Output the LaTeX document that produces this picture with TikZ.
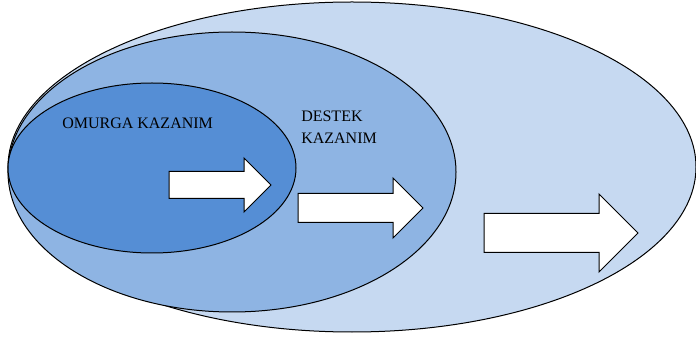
\documentclass[tikz,border=0pt]{standalone}
\usepackage{fontspec}
\setmainfont{Liberation Serif}
\usetikzlibrary{shapes.geometric,shapes.arrows}
\definecolor{coreblue}{HTML}{558ED5}
\definecolor{midblue}{HTML}{8EB4E3}
\definecolor{paleblue}{HTML}{C6D9F1}
\tikzset{ring style/.style={
		draw=black,
		line width=0.75pt,
		fill=#1,
		ellipse,
		inner sep=0pt,
	},
	label style/.style={
		text=black,
		inner sep=0pt,
		font=\fontsize{12}{16.5}\selectfont,
	},
	block arrow/.style n args={4}{
		draw=black,
		line width=0.75pt,
		fill=white,
		single arrow,
		single arrow tip angle=90,
		inner xsep=0pt,
		inner ysep=#2,
		single arrow head extend=#3,
		minimum width=#4,
		minimum height=#1,
		anchor=west,
		outer sep=0pt,
	}
}
\begin{document}
\begin{tikzpicture}[x=0.75pt,y=-0.75pt]
	\useasboundingbox (0,0) rectangle (696,338);
	% nested rings, largest first
	\node[ring style=paleblue, minimum width=516pt, minimum height=247.5pt] (Cevre) at (352,167) {};
	\node[ring style=midblue, minimum width=336pt, minimum height=210pt] (Destek) at (232,172) {};
	\node[ring style=coreblue, minimum width=216pt, minimum height=127.5pt] (Omurga) at (152,168) {};
	
	\node[label style, anchor=base west] (OmurgaText) at (62,129) {OMURGA KAZANIM};
	\node[label style, anchor=base west, align=left] (DestekText) at (301,144) {DESTEK\\KAZANIM};
	
	% block arrows
	\node[block arrow={76.5pt}{9.75pt}{10.125pt}{39.75pt}] (ArrowA) at (169,185) {};
	\node[block arrow={93.75pt}{10.5pt}{11.625pt}{44.25pt}] (ArrowB) at (298,208) {};
	\node[block arrow={115.5pt}{14.25pt}{14.625pt}{57.75pt}] (ArrowC) at (484,233) {};
\end{tikzpicture}
\end{document}
